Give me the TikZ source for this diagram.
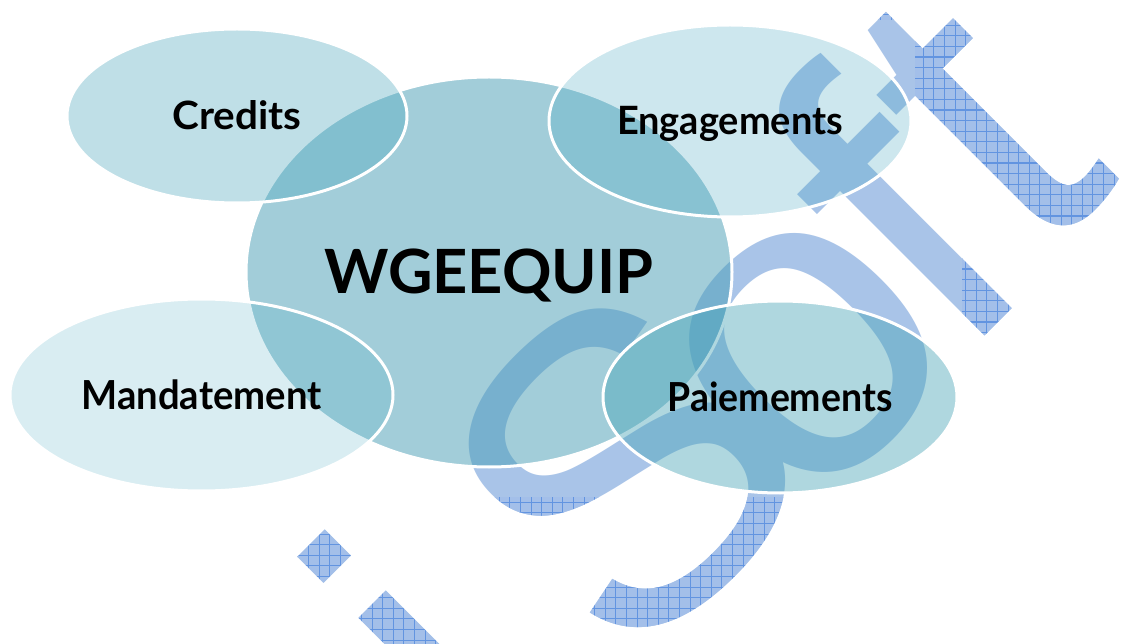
\documentclass[tikz,border=0pt]{standalone}
\usepackage{fontspec}
\setmainfont{Lato}
\newfontfamily\wmfont{Liberation Sans}
\usetikzlibrary{shapes.geometric}
\definecolor{wmblue}{RGB}{169,196,232}
\definecolor{wmhatch}{RGB}{163,191,233}
\definecolor{gridblue}{RGB}{98,148,224}
\definecolor{cCentral}{RGB}{71,157,181}
\definecolor{cCredits}{RGB}{72,166,189}
\definecolor{cEngag}{RGB}{63,163,190}
\definecolor{cMandat}{RGB}{79,174,198}
\definecolor{cPaie}{RGB}{71,164,183}
\newcommand\wml[1]{{\fontsize{440}{440}\selectfont\wmfont #1}}
\tikzset{
  wmnode/.style={anchor=base west, rotate=45, inner sep=0pt, outer sep=0pt},
  bub/.style={ellipse, draw=white, line width=3pt, inner sep=0pt, outer sep=0pt,
    text opacity=1, draw opacity=1, text=black, font=\bfseries, text depth=0pt},
}
\newcommand\wmletters[2]{%
  \node[wmnode, text=#1] (#2i) at (502.4,803.1) {\wml{i}};
  \node[wmnode, text=#1] (#2S) at (627.5,678.0) {\wml{S}};
  \node[wmnode, text=#1] (#2o) at (804.4,522.1) {\wml{o}};
  \node[wmnode, text=#1] (#2f) at (957.0,363.5) {\wml{f}};
  \node[wmnode, text=#1] (#2t) at (1036.0,265.0) {\wml{t}};
}
\begin{document}
\begin{tikzpicture}[x=1pt,y=-1pt]
\fill[white] (0,0) rectangle (1141,644);
\useasboundingbox (0,0) rectangle (1141,644);
% watermark
\begin{scope}
  \clip (0,0) rectangle (1141,644);
  \wmletters{wmblue}{a}
  \begin{scope}
    \clip (-10,-10) rectangle (1151,20) (-10,497) rectangle (1151,654)
          (962,20) rectangle (1151,497) (915,20) rectangle (962,160);
    \wmletters{wmhatch}{b}
    \begin{scope}
      \clip \foreach \k in {0,...,108} {(0.25+10.6*\k,-5) rectangle ++(0.9,660)}
            \foreach \k in {0,...,62} {(-5,3.25+10.6*\k) rectangle ++(1155,0.9)};
      \wmletters{gridblue}{c}
    \end{scope}
  \end{scope}
\end{scope}
% central ellipse
\node[bub, fill=cCentral, fill opacity=0.5, minimum width=486, minimum height=390, text height=44pt]
  (main) at (489,272) {\resizebox{329pt}{\height}{\fontsize{61}{61}\selectfont WGEEQUIP}};
% satellites
\node[bub, fill=cCredits, fill opacity=0.35, minimum width=340, minimum height=174, text height=28pt]
  (credits) at (237,116) {\resizebox{129pt}{\height}{\fontsize{39}{39}\selectfont Credits}};
\node[bub, fill=cEngag, fill opacity=0.26, minimum width=362, minimum height=192, text height=28pt]
  (engag) at (730,121) {\resizebox{226pt}{\height}{\fontsize{39}{39}\selectfont Engagements}};
\node[bub, fill=cMandat, fill opacity=0.21, minimum width=383, minimum height=192, text height=29pt]
  (mandat) at (201.5,395) {\resizebox{240pt}{\height}{\fontsize{40}{40}\selectfont Mandatement}};
\node[bub, fill=cPaie, fill opacity=0.43, minimum width=354, minimum height=192, text height=29pt]
  (paie) at (780,397) {\resizebox{225pt}{\height}{\fontsize{40}{40}\selectfont Paiemements}};
\end{tikzpicture}
\end{document}
